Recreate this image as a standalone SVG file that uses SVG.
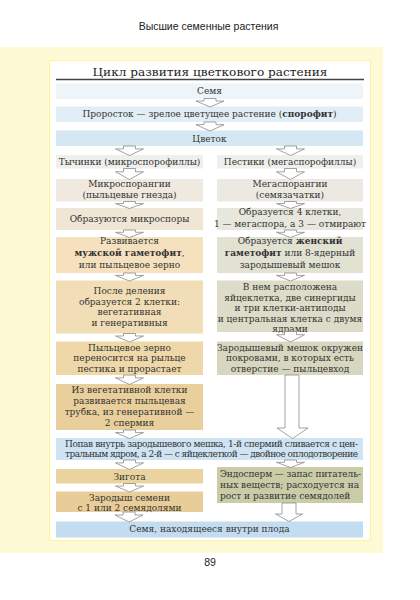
<svg xmlns="http://www.w3.org/2000/svg" width="420" height="600" viewBox="0 0 420 600">
<style>
.t{font-family:"DejaVu Serif","Liberation Serif",serif;font-size:9px;fill:#333;text-anchor:middle}
.b{font-weight:bold}
.hd{font-family:"Liberation Sans",Arial,sans-serif;font-size:10.5px;fill:#222;text-anchor:middle}
.arr{fill:#fff;stroke:#8a8a8a;stroke-width:0.8}
</style>
<rect x="0" y="0" width="420" height="600" fill="#fff"/>
<text class="hd" x="208.5" y="30">Высшие семенные растения</text>
<rect x="0" y="47" width="383" height="506" fill="#fffad6"/>
<rect x="49.5" y="60.5" width="321" height="480" fill="#fff" stroke="#fff39a" stroke-width="1"/>
<text x="210" y="76" textLength="235" lengthAdjust="spacingAndGlyphs" style="font-family:'DejaVu Serif','Liberation Serif',serif;font-size:11.5px;fill:#222;text-anchor:middle">Цикл развития цветкового растения</text>
<line x1="56" y1="79.5" x2="364" y2="79.5" stroke="#444" stroke-width="1.5"/>

<g id="n1"><rect x="56" y="83.5" width="307" height="15.5" fill="#eef5f8"/><text class="t" x="209.5" y="94.3">Семя</text></g>
<g id="n2"><rect x="56" y="106.5" width="307" height="15.5" fill="#e2eef6"/><text class="t" x="209.5" y="117.3">Проросток — зрелое цветущее растение (<tspan class="b">спорофит</tspan>)</text></g>
<g id="n3"><rect x="56" y="130.5" width="307" height="15.5" fill="#d5e7f3"/><text class="t" x="209.5" y="141.8">Цветок</text></g>
<g id="n4"><rect x="56" y="155" width="147" height="13.5" fill="#efefeb"/><text class="t" x="129.5" y="165">Тычинки (микроспорофиллы)</text></g>
<g id="n5"><rect x="217" y="155" width="146" height="13.5" fill="#efefeb"/><text class="t" x="290" y="165">Пестики (мегаспорофиллы)</text></g>
<g id="n6"><rect x="56" y="179" width="147" height="22.5" fill="#efe9df"/><text class="t" x="129.5" y="186.6">Микроспорангии<tspan x="129.5" y="197.6">(пыльцевые гнезда)</tspan></text></g>
<g id="n7"><rect x="217" y="179" width="146" height="22.5" fill="#ebe9e2"/><text class="t" x="290" y="186.6">Мегаспорангии<tspan x="290" y="197.6">(семязачатки)</tspan></text></g>
<g id="n8"><rect x="56" y="208" width="147" height="22" fill="#efe6d6"/><text class="t" x="129.5" y="222.3">Образуются микроспоры</text></g>
<g id="n9"><rect x="217" y="208" width="146" height="22" fill="#e8e7dd"/><text class="t" x="290" y="215">Образуется 4 клетки,<tspan x="290" y="226.6">1 — мегаспора, а 3 — отмирают</tspan></text></g>
<g id="n10"><rect x="56" y="237" width="147" height="36" fill="#f5e1bd"/><text class="t" x="129.5" y="244">Развивается<tspan x="129.5" y="256"><tspan class="b">мужской гаметофит</tspan>,</tspan><tspan x="129.5" y="268.3">или пыльцевое зерно</tspan></text></g>
<g id="n11"><rect x="217" y="237" width="146" height="36" fill="#e2e2d2"/><text class="t" x="290" y="244">Образуется <tspan class="b">женский</tspan><tspan x="290" y="256"><tspan class="b">гаметофит</tspan> или 8-ядерный</tspan><tspan x="290" y="268.3">зародышевый мешок</tspan></text></g>
<g id="n12"><rect x="56" y="280.5" width="147" height="53" fill="#f1ddb6"/><text class="t" x="129.5" y="294.3">После деления<tspan x="129.5" y="304.8">образуется 2 клетки:</tspan><tspan x="129.5" y="315.3">вегетативная</tspan><tspan x="129.5" y="325.8">и генеративныя</tspan></text></g>
<g id="n13"><rect x="217" y="280.5" width="146" height="51.5" fill="#dcdcc8"/><text class="t" x="290" y="290">В нем расположена<tspan x="290" y="300.5">яйцеклетка, две синергиды</tspan><tspan x="290" y="311">и три клетки-антиподы</tspan><tspan x="290" y="321.5">и центральная клетка с двумя</tspan><tspan x="290" y="331.5">ядрами</tspan></text></g>
<g id="n14"><rect x="56" y="341.5" width="147" height="33.5" fill="#eed8a9"/><text class="t" x="129.5" y="350.6">Пыльцевое зерно<tspan x="129.5" y="361.3">переносится на рыльце</tspan><tspan x="129.5" y="371.6">пестика и прорастает</tspan></text></g>
<g id="n15"><rect x="217" y="341.5" width="146" height="33.5" fill="#d7d7bf"/><text class="t" x="290" y="350.6">Зародышевый мешок окружен<tspan x="290" y="361.3">покровами, в которых есть</tspan><tspan x="290" y="371.6">отверстие — пыльцевход</tspan></text></g>
<g id="n16"><rect x="56" y="384" width="147" height="46" fill="#e9cf9b"/><text class="t" x="129.5" y="392.6">Из вегетативной клетки<tspan x="129.5" y="403.8">развивается пыльцевая</tspan><tspan x="129.5" y="415">трубка, из генеративной —</tspan><tspan x="129.5" y="426">2 спермия</tspan></text></g>
<g id="n17"><rect x="56" y="438" width="307" height="22" fill="#cfe3f2"/><text class="t" x="211.5" y="446.6" textLength="293">Попав внутрь зародышевого мешка, 1-й спермий сливается с цен-</text><text class="t" x="211.5" y="457.3" textLength="293">тральным ядром, а 2-й — с яйцеклеткой — двойное оплодотворение</text></g>
<g id="n18"><rect x="56" y="469" width="147" height="14.5" fill="#ebd39f"/><text class="t" x="129.5" y="479.5">Зигота</text></g>
<g id="n19"><rect x="217" y="467" width="146" height="36" fill="#cacca7"/><text class="t" x="220" y="476.6" style="text-anchor:start" textLength="141">Эндосперм — запас питатель-</text><text class="t" x="220" y="488" style="text-anchor:start" textLength="139">ных веществ; расходуется на</text><text class="t" x="220" y="499.3" style="text-anchor:start">рост и развитие семядолей</text></g>
<g id="n20"><rect x="56" y="491.5" width="147" height="20.5" fill="#e8cd99"/><text class="t" x="129.5" y="500.6">Зародыш семени<tspan x="129.5" y="510.6">с 1 или 2 семядолями</tspan></text></g>
<g id="n21"><rect x="56" y="521.5" width="307" height="16" fill="#c3dcef"/><text class="t" x="209.5" y="532.3">Семя, находящееся внутри плода</text></g>

<g id="connectors">
<path class="arr" d="M204,98.5H216V101H224L210,107L196,101H204Z"/>
<path class="arr" d="M204,122H216V124.7H224L210,131L196,124.7H204Z"/>
<path class="arr" d="M123.5,146H135.5V148.9H143.5L129.5,155.5L115.5,148.9H123.5Z"/>
<path class="arr" d="M284.5,146H296.5V148.9H304.5L290.5,155.5L276.5,148.9H284.5Z"/>
<path class="arr" d="M123.5,168.5H135.5V171.8H143.5L129.5,179.5L115.5,171.8H123.5Z"/>
<path class="arr" d="M284.5,168.5H296.5V171.8H304.5L290.5,179.5L276.5,171.8H284.5Z"/>
<path class="arr" d="M123.5,201.5H135.5V203.6H143.5L129.5,208.5L115.5,203.6H123.5Z"/>
<path class="arr" d="M284.5,201.5H296.5V203.6H304.5L290.5,208.5L276.5,203.6H284.5Z"/>
<path class="arr" d="M123.5,230H135.5V232.3H143.5L129.5,237.5L115.5,232.3H123.5Z"/>
<path class="arr" d="M284.5,230H296.5V232.3H304.5L290.5,237.5L276.5,232.3H284.5Z"/>
<path class="arr" d="M123.5,273H135.5V275.4H143.5L129.5,281L115.5,275.4H123.5Z"/>
<path class="arr" d="M284.5,273H296.5V275.4H304.5L290.5,281L276.5,275.4H284.5Z"/>
<path class="arr" d="M123.5,333.5H135.5V336H143.5L129.5,342L115.5,336H123.5Z"/>
<path class="arr" d="M284.5,331.5H296.5V334.7H304.5L290.5,342L276.5,334.7H284.5Z"/>
<path class="arr" d="M123.5,375H135.5V377.9H143.5L129.5,384.5L115.5,377.9H123.5Z"/>
<path class="arr" d="M123.5,430H135.5V432.6H143.5L129.5,438.5L115.5,432.6H123.5Z"/>
<path class="arr" d="M123.5,460H135.5V462.9H143.5L129.5,469.5L115.5,462.9H123.5Z"/>
<path class="arr" d="M284.5,460H296.5V462.3H304.5L290.5,467.5L276.5,462.3H284.5Z"/>
<path class="arr" d="M123.5,483.5H135.5V486H143.5L129.5,492L115.5,486H123.5Z"/>
<path class="arr" d="M123,512H135V515H143L129,522L115,515H123Z"/>
<path class="arr" d="M285,375H299V428H308L292.5,438.5L277,428H285Z"/>
<path class="arr" d="M282,503H296V514H302.5L289,521.5L275.5,514H282Z"/>
</g>
<text class="hd" x="210" y="566">89</text>
</svg>
